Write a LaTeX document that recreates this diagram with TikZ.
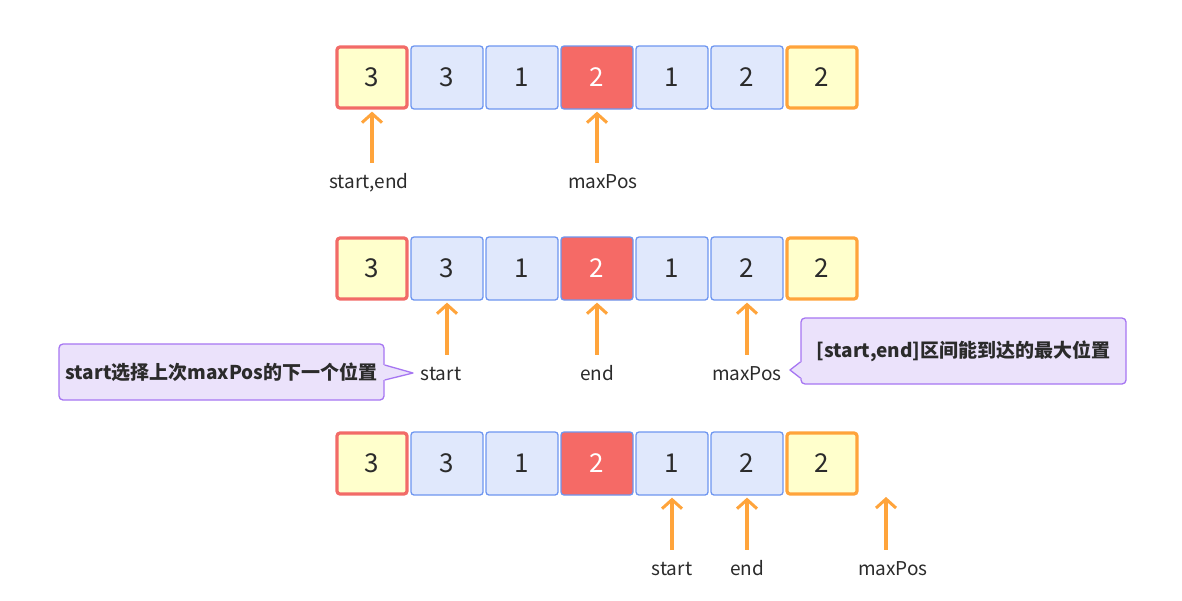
\documentclass[tikz,border=0pt]{standalone}
\usepackage{fontspec}
\setmainfont{Noto Sans CJK SC}
\usetikzlibrary{arrows.meta,calc}
\definecolor{cellfill}{HTML}{E0E8FC}
\definecolor{cellline}{HTML}{6E96F0}
\definecolor{redfill}{HTML}{F56A66}
\definecolor{redline}{HTML}{F26B67}
\definecolor{yelfill}{HTML}{FFFFCC}
\definecolor{orange}{HTML}{FFA43B}
\definecolor{cfill}{HTML}{EBE2FB}
\definecolor{cline}{HTML}{A676F2}
\definecolor{txt}{HTML}{2B2B2B}
\tikzset{
  cell/.style={draw=cellline, fill=cellfill, line width=1.3pt, rounded corners=3pt,
    minimum width=72pt, minimum height=63pt, inner sep=0pt, text=txt,
    font=\fontsize{26}{30}\selectfont},
  firstcell/.style={cell, draw=redline, fill=yelfill, line width=3.2pt, minimum width=70pt, minimum height=61pt},
  lastcell/.style={cell, draw=orange, fill=yelfill, line width=3.2pt, minimum width=70pt, minimum height=61pt},
  maxcell/.style={cell, fill=redfill, text=white},
  lab/.style={text=txt, font=\fontsize{19}{23}\selectfont, inner xsep=0pt, inner ysep=11pt,
    text height=14pt, text depth=4pt, anchor=base},
  arr/.style={draw=orange, line width=3.2pt, -{Straight Barb[length=9pt,width=20pt,line width=3pt]}, shorten >=2pt},
  callout/.style={draw=cline, fill=cfill, line width=1.3pt, rounded corners=4pt, text=txt,
    font=\fontsize{19}{23}\selectfont\bfseries, inner sep=0pt},
}
\begin{document}
\begin{tikzpicture}[x=1pt,y=-1pt]
\useasboundingbox[fill=white] (0,0) rectangle (1182,600);
% rows
\foreach \r/\yy in {a/77.5, b/268.5, c/463.5}{
  \node[firstcell] (\r1) at (372,\yy) {3};
  \node[cell] (\r2) at (447,\yy) {3};
  \node[cell] (\r3) at (522,\yy) {1};
  \node[maxcell] (\r4) at (597,\yy) {2};
  \node[cell] (\r5) at (672,\yy) {1};
  \node[cell] (\r6) at (747,\yy) {2};
  \node[lastcell] (\r7) at (822,\yy) {2};
}
% row 1 labels
\node[lab] (la1) at (369,188) {start,end};
\node[lab] (la2) at (603,188) {maxPos};
\draw[arr] (la1.north -| a1.south) -- (a1.south);
\draw[arr] (la2.north -| a4.south) -- (a4.south);
% row 2 labels
\node[lab] (lb1) at (441,380) {start};
\node[lab] (lb2) at (597,380) {end};
\node[lab] (lb3) at (747,380) {maxPos};
\draw[arr] (lb1.north -| b2.south) -- (b2.south);
\draw[arr] (lb2.north -| b4.south) -- (b4.south);
\draw[arr] (lb3.north -| b6.south) -- (b6.south);
% row 3 labels
\node[lab] (lc1) at (672,575) {start};
\node[lab] (lc2) at (747,575) {end};
\node[lab] (lc3) at (893,575) {maxPos};
\coordinate (m3) at (886,495);
\draw[arr] (lc1.north -| c5.south) -- (c5.south);
\draw[arr] (lc2.north -| c6.south) -- (c6.south);
\draw[arr] (lc3.north -| m3) -- (m3);
% callouts
\node[callout, minimum width=325pt, minimum height=56pt] (co1) at (221.5,372) {start选择上次maxPos的下一个位置};
\coordinate (t1) at (413,373);
\fill[cfill] ([xshift=-1.5pt,yshift=7pt]co1.east) -- (t1) -- ([xshift=-1.5pt,yshift=-8pt]co1.east) -- cycle;
\draw[cline, line width=1.3pt, line join=round] ([yshift=7pt]co1.east) -- (t1) -- ([yshift=-8pt]co1.east);
\node[callout, minimum width=325pt, minimum height=66pt] (co2) at (963.5,351) {[start,end]区间能到达的最大位置};
\coordinate (t2) at (790,370);
\fill[cfill] ([xshift=1.5pt,yshift=-11pt]co2.west) -- (t2) -- ([xshift=1.5pt,yshift=-27pt]co2.west) -- cycle;
\draw[cline, line width=1.3pt, line join=round] ([yshift=-11pt]co2.west) -- (t2) -- ([yshift=-27pt]co2.west);
\end{tikzpicture}
\end{document}
